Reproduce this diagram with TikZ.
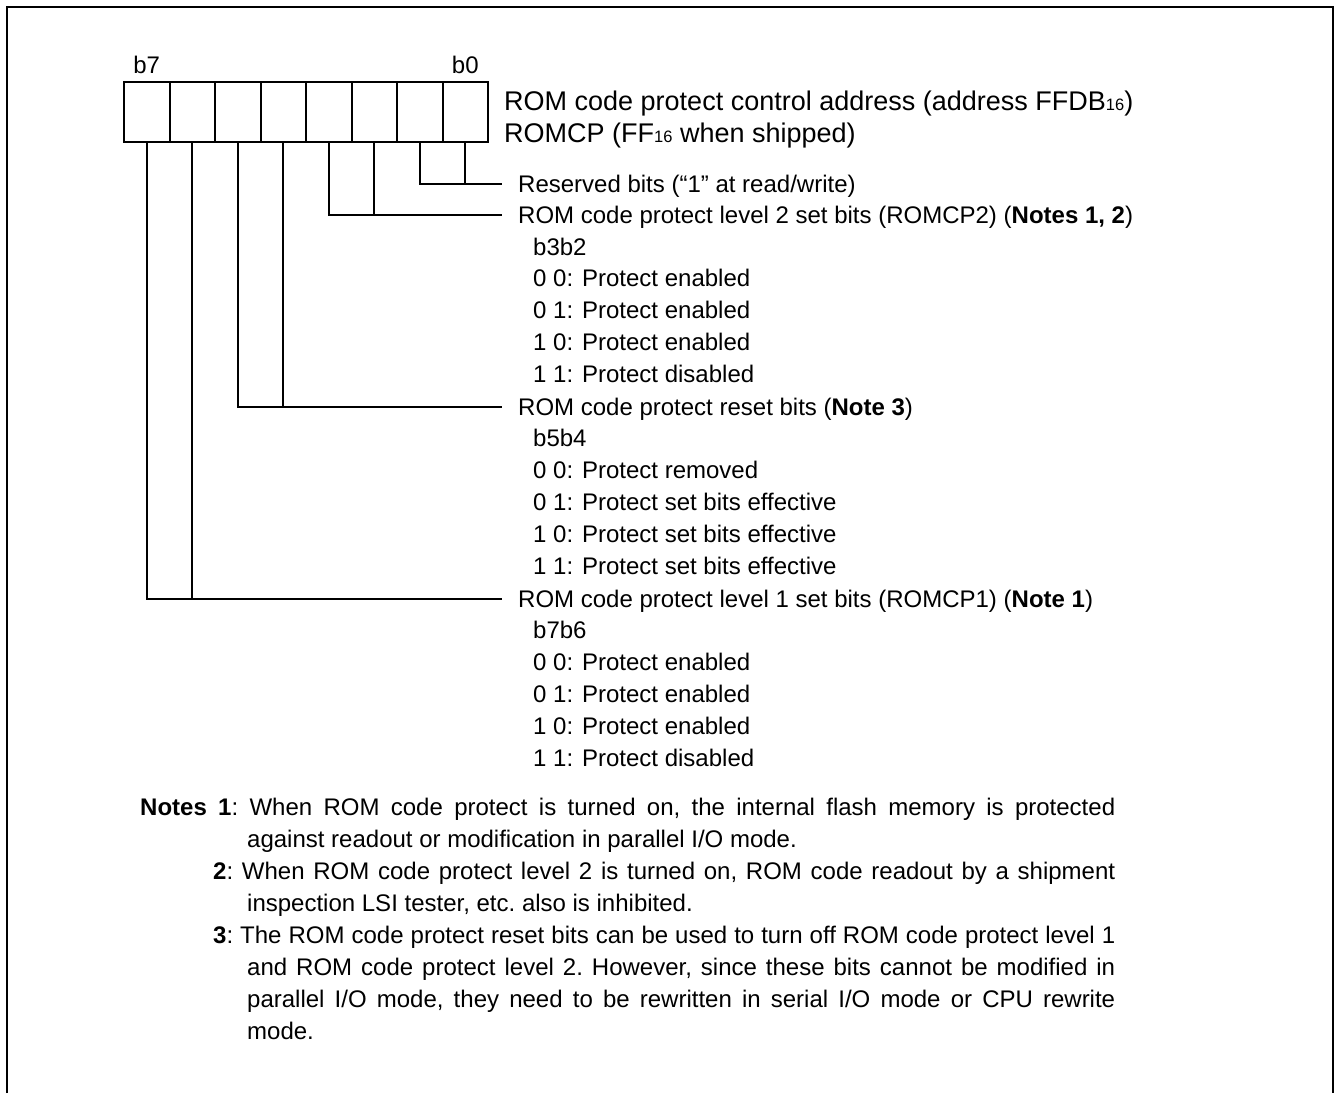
\documentclass[tikz,border=0pt]{standalone}
\usepackage{fontspec}
\setmainfont{Liberation Sans}
\usetikzlibrary{positioning}
\newcommand{\hexsub}{{\fontsize{16.5}{17}\selectfont 16}}

\begin{document}
\begin{tikzpicture}[x=1pt,y=-1pt,
    bitcell/.style={draw,line width=2pt,minimum width=45.5pt,minimum height=60pt,inner sep=0pt},
    bitno/.style={inner sep=0pt,text height=17.2pt,text depth=0pt,font=\fontsize{24}{32}\selectfont},
    hdrtext/.style={anchor=west,inner sep=0pt,text height=19.3pt,text depth=0pt,font=\fontsize{27}{32}\selectfont},
    fieldlbl/.style={anchor=west,inner xsep=16pt,inner ysep=0pt,text height=17.2pt,text depth=0pt,font=\fontsize{24}{32}\selectfont},
    rowlbl/.style={anchor=west,inner sep=0pt,text height=17.2pt,text depth=0pt,font=\fontsize{24}{32}\selectfont},
    notetext/.style={anchor=north west,inner sep=0pt,text width=975pt,align=justify,font=\fontsize{24}{32}\selectfont},
    wire/.style={line width=2pt}]
\useasboundingbox (0,0) rectangle (1337,1093);
% frame
\draw[line width=2.5pt] (7,1093) -- (7,7) -- (1333,7) -- (1333,1093);
% register
\foreach \i in {0,...,7}
    \node[bitcell] (c\i) at ({465.25-45.5*\i},112) {};
\node[bitno] (b7) at (146.75,65) {b7};
\node[bitno] (b0) at (465.25,65) {b0};
\node[hdrtext] (hdr1) at (504,101) {ROM code protect control address (address FFDB\hexsub)};
\node[hdrtext] (hdr2) at (504,132.6) {ROMCP (FF\hexsub{} when shipped)};
% bit fields
\node[fieldlbl] (rsv) at (502,184) {Reserved bits (“1” at read/write)};
\node[fieldlbl] (lvltwo) at (502,215.3) {ROM code protect level 2 set bits (ROMCP2) (\textbf{Notes 1, 2})};
\node[rowlbl] (h32) at (533,246.5) {b3b2};
\node[rowlbl] (v32a) at (533,278) {0 0: Protect enabled};
\node[rowlbl] (v32b) at (533,310) {0 1: Protect enabled};
\node[rowlbl] (v32c) at (533,341.5) {1 0: Protect enabled};
\node[rowlbl] (v32d) at (533,373.5) {1 1: Protect disabled};
\node[fieldlbl] (rst) at (502,406.5) {ROM code protect reset bits (\textbf{Note 3})};
\node[rowlbl] (h54) at (533,438) {b5b4};
\node[rowlbl] (v54a) at (533,469.5) {0 0: Protect removed};
\node[rowlbl] (v54b) at (533,501.5) {0 1: Protect set bits effective};
\node[rowlbl] (v54c) at (533,533.5) {1 0: Protect set bits effective};
\node[rowlbl] (v54d) at (533,565.5) {1 1: Protect set bits effective};
\node[fieldlbl] (lvlone) at (502,599) {ROM code protect level 1 set bits (ROMCP1) (\textbf{Note 1})};
\node[rowlbl] (h76) at (533,630) {b7b6};
\node[rowlbl] (v76a) at (533,662) {0 0: Protect enabled};
\node[rowlbl] (v76b) at (533,694) {0 1: Protect enabled};
\node[rowlbl] (v76c) at (533,726) {1 0: Protect enabled};
\node[rowlbl] (v76d) at (533,757.5) {1 1: Protect disabled};
% connectors
\draw[wire] (c1.south) |- (rsv.west) (c0.south) |- (rsv.west);
\draw[wire] (c3.south) |- (lvltwo.west) (c2.south) |- (lvltwo.west);
\draw[wire] (c5.south) |- (rst.west) (c4.south) |- (rst.west);
\draw[wire] (c7.south) |- (lvlone.west) (c6.south) |- (lvlone.west);
% notes
\node[notetext] (notes) at (140,798) {\parindent=0pt\parskip=0pt\hyphenpenalty=10000\tolerance=9999\frenchspacing
\hangindent=107pt\hangafter=1 \textbf{Notes 1}: When ROM code protect is turned on, the internal flash memory is protected\linebreak against readout or modification in parallel I/O mode.\par
\hangindent=107pt\hangafter=1 \hspace*{73pt}\textbf{2}: When ROM code protect level 2 is turned on, ROM code readout by a shipment\linebreak inspection LSI tester, etc. also is inhibited.\par
\hangindent=107pt\hangafter=1 \hspace*{73pt}\textbf{3}: The ROM code protect reset bits can be used to turn off ROM code protect level 1\linebreak and ROM code protect level 2. However, since these bits cannot be modified in\linebreak parallel I/O mode, they need to be rewritten in serial I/O mode or CPU rewrite\linebreak mode.\par};
\end{tikzpicture}
\end{document}
